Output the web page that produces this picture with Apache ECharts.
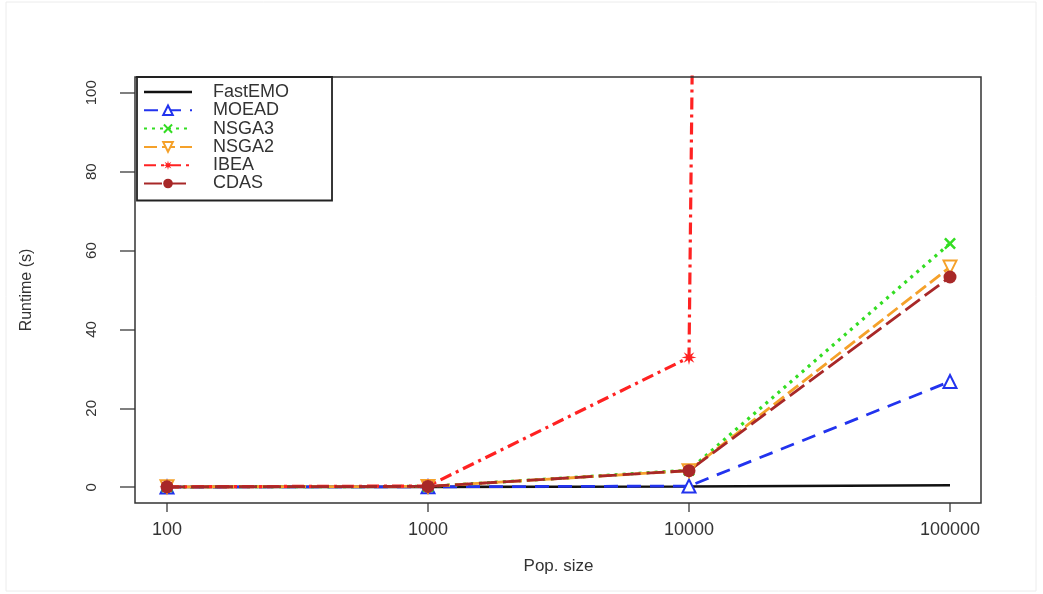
<!DOCTYPE html>
<html>
<head>
<meta charset="utf-8">
<script src="https://cdn.jsdelivr.net/npm/echarts@6/dist/echarts.min.js"></script>
<style>
html,body{margin:0;padding:0;background:#fff;}
#chart{width:1043px;height:594px;}
</style>
</head>
<body>
<div id="chart"></div>
<script>
// ---- data ----
const popSizes = [100, 1000, 10000, 100000];
const yTicks = [0, 20, 40, 60, 80, 100];
const seriesNames = ['FastEMO', 'MOEAD', 'NSGA3', 'NSGA2', 'IBEA', 'CDAS'];
const fastEMO = [0.05, 0.1, 0.2, 0.5];
const moead   = [0.05, 0.1, 0.3, 26.8];
const nsga3   = [0.1, 0.2, 4.3, 61.8];
const nsga2   = [0.1, 0.2, 4.2, 55.8];
const ibea    = [0.1, 0.3, 32.9, 6000];
const cdas    = [0.1, 0.2, 4.2, 53.3];

const valuesByName = {FastEMO: fastEMO, MOEAD: moead, NSGA3: nsga3, NSGA2: nsga2, IBEA: ibea, CDAS: cdas};

const crossPath = 'path://M0,1.5 L1.5,0 L5,3.5 L8.5,0 L10,1.5 L6.5,5 L10,8.5 L8.5,10 L5,6.5 L1.5,10 L0,8.5 L3.5,5 Z';
const starPath = 'path://M10,5 L6.85,5.77 L8.54,8.54 L5.77,6.85 L5,10 L4.23,6.85 L1.46,8.54 L3.15,5.77 L0,5 L3.15,4.23 L1.46,1.46 L4.23,3.15 L5,0 L5.77,3.15 L8.54,1.46 L6.85,4.23 Z';
const lineIcon = 'path://M0,0 L48,0 L48,2.5 L0,2.5 Z';

const styles = {
  FastEMO: {color: '#111111', type: 'solid', width: 2.6, symbol: 'none', size: 0},
  MOEAD:   {color: '#2233ee', type: [14, 9], width: 2.8, symbol: 'emptyTriangle', size: 13},
  NSGA3:   {color: '#33dd22', type: [3, 5], width: 3.2, symbol: crossPath, size: 12},
  NSGA2:   {color: '#f5a12a', type: [13, 5], width: 2.8, symbol: 'emptyTriangle', size: 13, rotate: 180},
  IBEA:    {color: '#ff2222', type: [12, 5, 3, 5], width: 3.2, symbol: starPath, size: 15},
  CDAS:    {color: '#a82828', type: [18, 6], width: 2.8, symbol: 'circle', size: 13}
};

const series = seriesNames.map(name => {
  const s = styles[name];
  return {
    name: name,
    type: 'line',
    data: popSizes.map((p, i) => [p, valuesByName[name][i]]),
    symbol: s.symbol,
    symbolSize: s.size,
    symbolRotate: s.rotate || 0,
    showSymbol: s.symbol !== 'none',
    lineStyle: {color: s.color, width: s.width, type: s.type},
    itemStyle: {color: s.color, borderColor: s.color, borderWidth: s.symbol.indexOf('empty') === 0 ? 2.5 : 0},
    clip: true,
    animation: false,
    z: 2
  };
});

const legendData = seriesNames.map(n => n === 'FastEMO' ? {name: n, icon: lineIcon} : n);

const chart = echarts.init(document.getElementById('chart'), null, {renderer: 'canvas'});
chart.setOption({
  animation: false,
  backgroundColor: '#ffffff',
  grid: {left: 167, right: 93, top: 77, bottom: 91, show: false},
  xAxis: {
    type: 'log',
    logBase: 10,
    min: popSizes[0],
    max: popSizes[popSizes.length - 1],
    name: 'Pop. size',
    nameLocation: 'middle',
    nameGap: 55,
    nameTextStyle: {fontFamily: 'Liberation Sans', fontSize: 17, color: '#333'},
    axisLine: {show: false, onZero: false},
    axisTick: {show: true, inside: false, length: 9, lineStyle: {color: '#555', width: 1.5}},
    axisLabel: {show: true, margin: 18, fontFamily: 'Liberation Sans', fontSize: 18, color: '#333',
      formatter: v => String(Math.round(v))},
    splitLine: {show: false},
    minorTick: {show: false}
  },
  yAxis: {
    type: 'value',
    min: -4,
    max: 104,
    offset: 32,
    name: 'Runtime (s)',
    nameLocation: 'middle',
    nameGap: 100,
    nameRotate: 90,
    nameTextStyle: {fontFamily: 'Liberation Sans', fontSize: 16, color: '#333'},
    axisLine: {show: false, onZero: false},
    axisTick: {show: true, inside: false, length: 15, lineStyle: {color: '#555', width: 1.5}, customValues: yTicks},
    axisLabel: {show: true, rotate: 90, margin: 36, fontFamily: 'Liberation Sans', fontSize: 15, color: '#333', customValues: yTicks},
    splitLine: {show: false}
  },
  legend: {
    show: true,
    orient: 'vertical',
    left: 137,
    top: 77,
    data: legendData,
    itemWidth: 48,
    itemHeight: 12,
    itemGap: 0.3,
    padding: [6, 43, 8, 6],
    borderColor: '#222',
    borderWidth: 1.8,
    backgroundColor: '#ffffff',
    textStyle: {fontFamily: 'Liberation Sans', fontSize: 18, color: '#333', padding: [0, 0, 0, 16]},
    z: 10
  },
  graphic: [{
    type: 'rect',
    shape: {x: 6, y: 2, width: 1030, height: 589},
    style: {fill: 'none', stroke: '#ececec', lineWidth: 1},
    silent: true,
    z: -1
  }, {
    type: 'rect',
    shape: {x: 135, y: 77, width: 846, height: 426},
    style: {fill: 'none', stroke: '#333', lineWidth: 1.5},
    silent: true,
    z: 5
  }],
  series: series
});
</script>
</body>
</html>
